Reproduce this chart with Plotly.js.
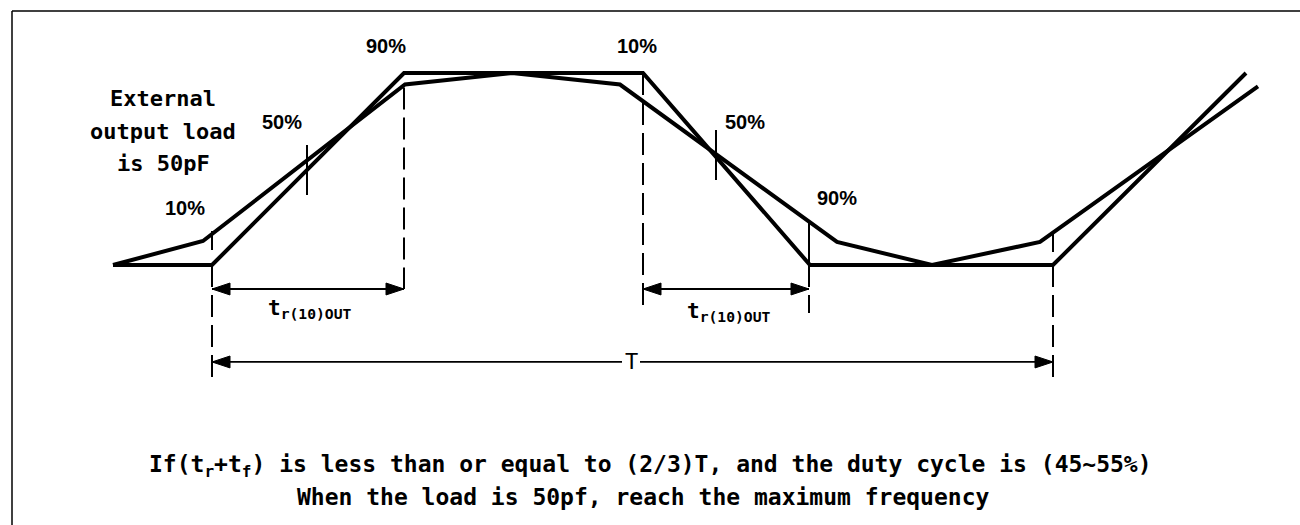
<!DOCTYPE html>
<html>
<head>
<meta charset="utf-8">
<script src="https://cdn.plot.ly/plotly-3.0.1.min.js"></script>
<style>html,body{margin:0;padding:0;background:#fff;}#chart{width:1300px;height:525px;}</style>
</head>
<body>
<div id="chart"></div>
<script>
// ---- data (time axis in drawing units, level in % of swing: 0 = low, 100 = high) ----
const idealTime  = [113, 212, 404, 643, 810, 1053, 1246];
const idealLevel = [0, 0, 100, 100, 0, 0, 100];

const loadTime  = [113, 203, 405, 512, 620, 837, 932, 1040, 1258];
const loadLevel = [0, 12.5, 94, 100, 94, 12, 0, 12, 93];

// solid marker ticks at the 10% / 50% / 90% crossing points
const tickTime   = [212, 307, 716, 809, 1053];
const tickTop    = [17.7, 62.5, 70.3, 21.9, 16.7];
const tickBottom = [7.8, 36.5, 44.3, 0, 6.8];

// dashed projection lines
const dashTime   = [212, 404, 643, 809, 1053];
const dashTop    = [0, 92.5, 100, 0, 0];
const dashBottom = [-62.5, -12.5, -25, -25, -62.5];

// dimension arrows
const trStart = [212, 643];
const trEnd   = [404, 809];
const trLevel = -12.5;
const periodStart = 212, periodEnd = 1053, periodLevel = -50.5;
const periodGap = [622, 640];

// percentage labels
const pctText  = ["90%", "10%", "50%", "10%", "50%", "90%"];
const pctTime  = [386, 637, 282, 185, 745, 837];
const pctLevel = [114.1, 114.1, 74.5, 29.7, 74.5, 34.9];

const loadNote  = ["External", "output load", "is 50pF"];
const noteLevel = [86.5, 69.5, 53.1];
const noteTime  = 163;

const trLabelTime  = [310, 729];
const trLabelLevel = [-22.9, -24.5];

const footer = [
  "If(t<sub>r</sub>+t<sub>f</sub>) is less than or equal to (2/3)T, and the duty cycle is (45~55%)",
  "When the load is 50pf, reach the maximum frequency"
];
const footerTime  = [650, 643];
const footerLevel = [-104.7, -120.8];

// ---- style constants ----
const HEAD_LEN = 18;     // along time axis
const HEAD_HALF = 3.1;   // along level axis

// ---- traces ----
const traces = [
  {x: idealTime, y: idealLevel, mode: 'lines', line: {color: '#000', width: 4}, hoverinfo: 'skip'},
  {x: loadTime, y: loadLevel, mode: 'lines', line: {color: '#000', width: 4}, hoverinfo: 'skip'}
];

const shapes = [];
function vline(t, a, b, w, dash) {
  shapes.push({type: 'line', xref: 'x', yref: 'y', x0: t, x1: t, y0: a, y1: b,
    line: {color: '#000', width: w, dash: dash || 'solid'}});
}
function hline(a, b, lvl) {
  shapes.push({type: 'line', xref: 'x', yref: 'y', x0: a, x1: b, y0: lvl, y1: lvl,
    line: {color: '#000', width: 1.8}});
}
function head(tip, lvl, dir) { // dir = -1 points left, +1 points right
  const base = tip - dir * HEAD_LEN;
  shapes.push({type: 'path', xref: 'x', yref: 'y',
    path: 'M' + tip + ',' + lvl + ' L' + base + ',' + (lvl + HEAD_HALF) + ' L' + base + ',' + (lvl - HEAD_HALF) + ' Z',
    fillcolor: '#000', line: {color: '#000', width: 1}});
}
tickTime.forEach((t, i) => vline(t, tickTop[i], tickBottom[i], 2));
dashTime.forEach((t, i) => vline(t, dashTop[i], dashBottom[i], 2, '22px,8px'));

trStart.forEach((s, i) => { hline(s, trEnd[i], trLevel); head(s, trLevel, -1); head(trEnd[i], trLevel, 1); });
hline(periodStart, periodGap[0], periodLevel); head(periodStart, periodLevel, -1);
hline(periodGap[1], periodEnd, periodLevel); head(periodEnd, periodLevel, 1);

// frame
shapes.push({type: 'line', xref: 'paper', yref: 'paper', x0: 12/1300, x1: 12/1300, y0: 0, y1: 1 - 11/525, line: {color: '#000', width: 1.5}});
shapes.push({type: 'line', xref: 'paper', yref: 'paper', x0: 12/1300, x1: 1, y0: 1 - 11/525, y1: 1 - 11/525, line: {color: '#000', width: 1.5}});

const ann = [];
const pctFont = {family: 'Liberation Sans, Arial, sans-serif', size: 20, color: '#000'};
pctText.forEach((s, i) => ann.push({xref: 'x', yref: 'y', x: pctTime[i], y: pctLevel[i], text: '<b>' + s + '</b>',
  showarrow: false, xanchor: 'center', yanchor: 'middle', font: pctFont}));

const monoBold = {family: 'DejaVu Sans Mono, monospace', size: 22, color: '#000'};
loadNote.forEach((s, i) => ann.push({xref: 'x', yref: 'y', x: noteTime, y: noteLevel[i], text: '<b>' + s + '</b>',
  showarrow: false, xanchor: 'center', yanchor: 'middle', font: monoBold}));

trLabelTime.forEach((t, i) => ann.push({xref: 'x', yref: 'y', x: t, y: trLabelLevel[i],
  text: '<b>t<sub>r(10)OUT</sub></b>', showarrow: false, xanchor: 'center', yanchor: 'middle',
  font: {family: 'DejaVu Sans Mono, monospace', size: 21, color: '#000'}}));

ann.push({xref: 'x', yref: 'y', x: (periodGap[0] + periodGap[1]) / 2, y: periodLevel, text: 'T', showarrow: false,
  xanchor: 'center', yanchor: 'middle', font: {family: 'DejaVu Sans Mono, monospace', size: 22, color: '#000'}});

footer.forEach((s, i) => ann.push({xref: 'x', yref: 'y', x: footerTime[i], y: footerLevel[i], text: '<b>' + s + '</b>',
  showarrow: false, xanchor: 'center', yanchor: 'middle', font: {family: 'DejaVu Sans Mono, monospace', size: 23, color: '#000'}}));

const layout = {
  width: 1300, height: 525,
  margin: {l: 0, r: 0, t: 0, b: 0},
  paper_bgcolor: '#fff', plot_bgcolor: '#fff',
  showlegend: false,
  xaxis: {range: [0, 1300], visible: false, fixedrange: true},
  yaxis: {range: [-135.42, 138.02], visible: false, fixedrange: true},
  shapes: shapes,
  annotations: ann
};

Plotly.newPlot('chart', traces, layout, {displayModeBar: false, staticPlot: true});
</script>
</body>
</html>
